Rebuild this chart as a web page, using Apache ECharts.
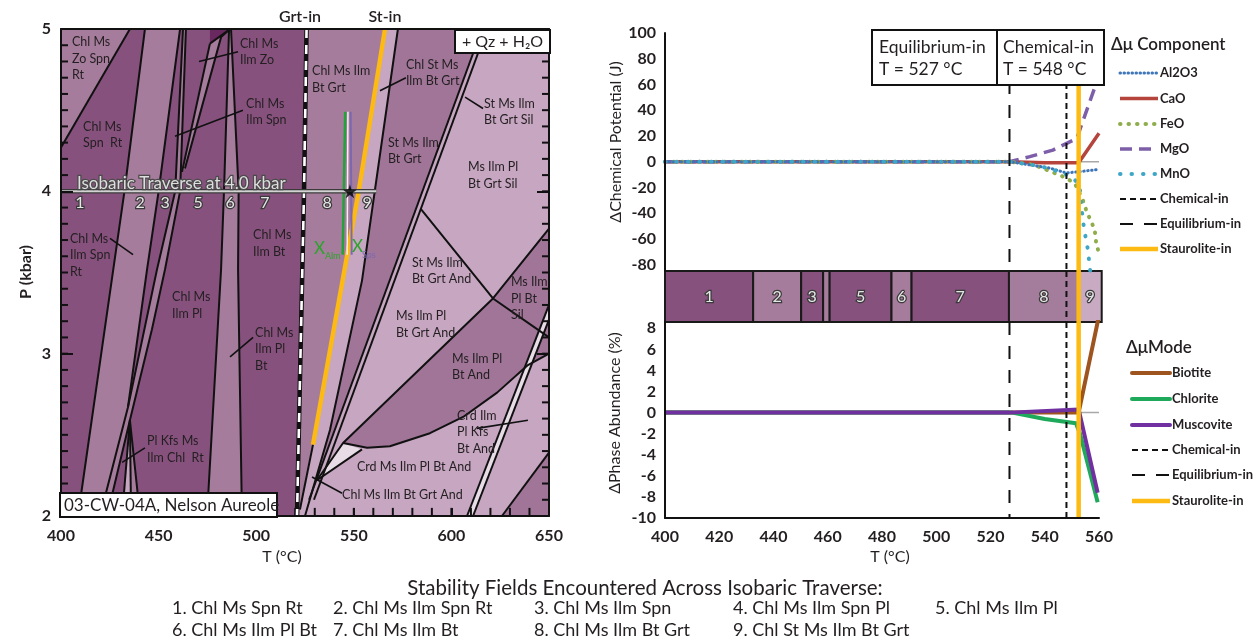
<!DOCTYPE html>
<html>
<head>
<meta charset="utf-8">
<title>Isobaric traverse, 03-CW-04A</title>
<script src="https://cdn.jsdelivr.net/npm/echarts@6.0.0/dist/echarts.min.js"></script>
<style>
  html, body { margin: 0; padding: 0; background: #ffffff; }
  #chart { width: 1260px; height: 641px; }
</style>
</head>
<body>
<div id="chart"></div>
<script>
const FONT = 'Lato, "Noto Sans", sans-serif';
const INK = '#231f20';

// ---------------- Pseudosection: vertices are [T (°C), P (kbar)] ----------------
const zoField      = [[400,5],[435.3,5],[400,4.27]];
const field2       = [[443.0,5],[461.0,5],[450.0,4],[444.1,3.52],[434.3,2.67],[420.0,2],[408.7,2],[432.5,4]];
const field4       = [[462.5,5],[464.0,5],[461.0,4],[453.3,3.52],[446.6,3.15],[435.3,2.59],[423.6,2],[420.0,2],[434.3,2.67],[449.2,3.52],[458.5,4]];
const field6       = [[486.1,5],[487.1,5],[491.0,4],[490.7,3.52],[492.7,2],[474.8,2],[482.0,3.52],[483.5,4]];
const topWedge     = [[476.3,4.91],[482.0,4.95],[463.5,4.14],[462.0,4.12]];
const plKfsRight   = [[435.3,2.59],[435.9,2],[440.5,2]];
const plKfsLeft    = [[435.3,2.59],[431.3,2],[435.9,2]];
const zoPeak       = [[476.3,5],[486.6,5],[476.3,4.91]];
const garnetSide   = [[525.8,5],[650,5],[650,2],[520.9,2],[524.5,4]];
const field8       = [[525.8,5],[566.0,5],[552.5,4],[529.1,2.44],[522.4,2.04],[522.0,2],[520.9,2],[524.5,4]];
const stField      = [[572.6,5],[615.7,5],[527.1,2.10],[525.0,2],[537.8,2.53],[554.2,3.45]];
const silField     = [[650,3.77],[621.3,3.34],[650,3.10]];
const andWedge     = [[544.5,2.45],[621.3,3.34],[650,3.10],[650,3.00],[639.2,2.93],[623.4,2.76],[606.0,2.61],[589.0,2.51],[568.5,2.43],[556.8,2.42]];
const cornerField  = [[625.9,2],[650,2],[650,2.39]];
const smallTri     = [[544.5,2.45],[554.2,2.41],[531.1,2.22]];
const doubleStrip  = [[608.0,2],[611.1,2],[650,3.21],[650,3.30]];

// reaction lines
const lineZo   = [[435.3,5],[400,4.27]];
const lineB    = [[443.0,5],[432.5,4],[408.7,2]];
const lineC    = [[461.0,5],[450.0,4],[444.1,3.52],[434.3,2.67],[420.0,2]];
const lineD    = [[462.5,5],[458.5,4],[449.2,3.52],[434.3,2.67]];
const lineE    = [[464.0,5],[461.0,4],[453.3,3.52],[446.6,3.15],[435.3,2.59],[423.6,2]];
const line56   = [[486.1,5],[483.5,4],[482.0,3.52],[474.8,2]];
const line67   = [[487.1,5],[491.0,4],[490.7,3.52],[492.7,2]];
const wedgeL   = [[476.3,4.91],[462.0,4.12]];
const wedgeR   = [[486.6,5],[482.0,4.95],[463.5,4.14]];
const peakEdge = [[476.3,4.91],[486.6,5]];
const triL     = [[435.3,2.59],[431.3,2]];
const triM     = [[435.3,2.59],[435.9,2]];
const triR     = [[435.3,2.59],[440.5,2]];
const stBelow  = [[529.1,2.44],[522.4,2.04]];
const lineF    = [[572.6,5],[554.2,3.45],[537.8,2.53],[525.0,2]];
const lineG1   = [[615.7,5],[527.1,2.10]];
const lineG2   = [[618.2,5],[529.6,2.10]];
const lineH    = [[584.4,3.89],[621.3,3.34],[650,3.10]];
const lineI    = [[650,3.77],[621.3,3.34],[544.5,2.45],[531.1,2.22]];
const lineK    = [[544.5,2.45],[556.8,2.42],[568.5,2.43],[589.0,2.51],[606.0,2.61],[623.4,2.76],[639.2,2.93],[650,3.00]];
const lineTri  = [[554.2,2.41],[531.1,2.22]];
const lineM1   = [[608.0,2],[650,3.30]];
const lineM2   = [[611.1,2],[650,3.21]];
const lineM3   = [[625.9,2],[650,2.39]];

const leaders = [
  [[470.7,4.80],[490.7,4.86]], [[458.4,4.34],[493.2,4.50]], [[425.1,3.71],[436.9,3.61]],
  [[486.6,2.98],[498.4,3.10]], [[431.3,2.33],[443.0,2.42]], [[563.4,4.62],[576.7,4.70]],
  [[607.0,4.58],[616.2,4.51]], [[613.1,2.54],[639.2,2.59]], [[528.6,2.24],[544.0,2.14]]
];

const grtIn  = [[525.8,5],[524.5,4],[520.9,2]];
const stIn   = [[566.0,5],[552.5,4],[529.1,2.44]];
const isoAlm = [[545.6,4.49],[544.3,3.61]];
const isoMid = [[547.0,4.49],[546.6,3.61]];
const isoSps = [[548.4,4.49],[548.9,3.61]];

const traverseP = 4.0;
const traverse  = [[400, traverseP],[561.5, traverseP]];
const starPoint = [[548, traverseP]];
const travNumT     = [409.7, 440.5, 453.3, 470.2, 486.6, 504.5, 536.3, 556.8];
const travNumLabel = ['1','2','3','5','6','7','8','9'];

const fieldLabelPos = [
  [405.6,4.97],[411.3,4.45],[491.7,4.96],[494.8,4.59],[404.6,3.76],[498.4,3.78],[456.9,3.40],
  [499.4,3.18],[444.1,2.51],[528.6,4.79],[576.7,4.83],[616.7,4.59],[567.5,4.35],[608.5,4.20],
  [579.8,3.61],[571.6,3.28],[600.3,3.02],[630.5,3.49],[602.9,2.67],[551.6,2.35],[544.0,2.18]
];
const fieldLabelText = [
  'Chl Ms\nZo Spn\nRt', 'Chl Ms\nSpn  Rt', 'Chl Ms\nIlm Zo', 'Chl Ms\nIlm Spn', 'Chl Ms\nIlm Spn\nRt',
  'Chl Ms\nIlm Bt', 'Chl Ms\nIlm Pl', 'Chl Ms\nIlm Pl\nBt', 'Pl Kfs Ms\nIlm Chl  Rt', 'Chl Ms Ilm\nBt Grt',
  'Chl St Ms\nIlm Bt Grt', 'St Ms Ilm\nBt Grt Sil', 'St Ms Ilm\nBt Grt', 'Ms Ilm Pl\nBt Grt Sil',
  'St Ms Ilm\nBt Grt And', 'Ms Ilm Pl\nBt Grt And', 'Ms Ilm Pl\nBt And', 'Ms Ilm\nPl Bt\nSil',
  'Crd Ilm\nPl Kfs\nBt And', 'Crd Ms Ilm Pl Bt And', 'Chl Ms Ilm Bt Grt And'
];

// frame ticks of the pseudosection: every 0.1 kbar and every 10 °C, pointing inwards
const pTicks = [];
for (let k = 21; k < 50; k++) pTicks.push(k / 10);
const tTicks = [];
for (let t = 410; t < 650; t += 10) tTicks.push(t);
const tickPaths = [].concat(
  pTicks.map(p => [[400, p], [403.6, p]]),
  pTicks.map(p => [[650, p], [646.4, p]]),
  tTicks.map(t => [[t, 2], [t, 2.05]])
);

// ---------------- Traverse at 4.0 kbar ----------------
const equilibriumIn = 527;
const chemicalIn    = 548;
const stauroliteIn  = 552.5;

const bandEdges = [400, 432.5, 450.2, 458.3, 460.7, 483.5, 490.9, 526.8, 552.5, 561];
const bandNames = ['1','2','3','','5','6','7','8','9'];
const bandShade = ['#87517e','#a67c9c','#87517e','#a67c9c','#87517e','#a67c9c','#87517e','#a57d9c','#c8aac3'];

// Δμ of each component (J) against T (°C)
const al2o3 = [[400,0],[527,0],[541.7,-4.9],[547.9,-8.8],[554,-7.5],[559,-6.2]];
const cao   = [[400,0],[527,0],[540,-0.8],[552.5,-0.8],[560,22]];
const feo   = [[400,0],[527,0],[535.4,-2.3],[539,-4.9],[546.5,-11.4],[551,-16.5],[554,-29.5],[555.4,-38.5],[558.4,-52.7],[559,-64],[560,-71]];
const mgo   = [[400,0],[527,0],[534.5,3.9],[543,9],[551.8,18],[558.5,58],[560,68]];
const mno   = [[400,0],[527,0],[537,-3],[542,-5.5],[549.7,-11.4],[552.8,-17.8],[554,-45],[555,-58],[556,-69.5],[556.5,-81],[557,-88]];

// Δ phase abundance (%) against T (°C)
const biotite   = [[400,0],[552.5,0],[560,9.2]];
const chlorite  = [[400,0],[528,0],[540,-0.6],[551.5,-1.0],[553,-2.0],[559.5,-8.5]];
const muscovite = [[400,0],[527,0],[552.5,0.3],[559.5,-7.6]];
const zeroRef   = [[400,0],[560,0]];

const componentNames = ['Al2O3','CaO','FeO','MgO','MnO'];
const modeNames = ['Biotite','Chlorite','Muscovite'];
const traverseFields = ['Chl Ms Spn Rt','Chl Ms Ilm Spn Rt','Chl Ms Ilm Spn','Chl Ms Ilm Spn Pl','Chl Ms Ilm Pl',
                        'Chl Ms Ilm Pl Bt','Chl Ms Ilm Bt','Chl Ms Ilm Bt Grt','Chl St Ms Ilm Bt Grt'];

// ---------------- helpers ----------------
function polySeries(polys, fill, z) {
  return {
    type: 'custom', xAxisIndex: 0, yAxisIndex: 0, silent: true, z: z,
    data: polys.map((p, i) => [p[0][0], p[0][1], i]),
    renderItem: (params, api) => ({
      type: 'polygon',
      shape: { points: polys[params.dataIndex].map(q => api.coord(q)) },
      style: { fill: fill }
    })
  };
}
function pathSeries(paths, stroke, width, dash, z) {
  return {
    type: 'custom', xAxisIndex: 0, yAxisIndex: 0, silent: true, z: z,
    data: paths.map((p, i) => [p[0][0], p[0][1], i]),
    renderItem: (params, api) => ({
      type: 'polyline',
      shape: { points: paths[params.dataIndex].map(q => api.coord(q)) },
      style: { fill: null, stroke: stroke, lineWidth: width, lineDash: dash || null, lineJoin: 'round' }
    })
  };
}
function textSeries(pos, texts, style, z) {
  return {
    type: 'custom', xAxisIndex: 0, yAxisIndex: 0, silent: true, z: z,
    data: pos.map((p, i) => [p[0], p[1], i]),
    renderItem: (params, api) => {
      const c = api.coord(pos[params.dataIndex]);
      return { type: 'text', x: c[0], y: c[1], style: Object.assign({ text: texts[params.dataIndex] }, style) };
    }
  };
}
function markerSeries(xi, yi, yLo, yHi, t, stroke, width, dash, z) {
  return {
    type: 'custom', xAxisIndex: xi, yAxisIndex: yi, silent: true, z: z,
    data: [[t, yLo]],
    renderItem: (params, api) => {
      const a = api.coord([t, yHi]), b = api.coord([t, yLo]);
      return { type: 'line', shape: { x1: a[0], y1: a[1], x2: b[0], y2: b[1] },
               style: { stroke: stroke, lineWidth: width, lineDash: dash || null } };
    }
  };
}
function lineSer(xi, yi, data, color, width, type, cap, z) {
  return { type: 'line', xAxisIndex: xi, yAxisIndex: yi, data: data, showSymbol: false, symbol: 'none',
           clip: true, silent: true, z: z,
           lineStyle: { color: color, width: width, type: type || 'solid', cap: cap || 'butt', join: 'round' } };
}
function txtStyle(font, align, valign, extra) {
  return Object.assign({ fill: INK, font: font, align: align, textAlign: align,
                         verticalAlign: valign, textVerticalAlign: valign }, extra || {});
}

// ---------------- style constants ----------------
const MID = '#a67c9c', PALE = '#c6a6c1', STRIP = '#a07598', VPALE = '#e8dde7', DEEP = '#6a2860';
const COL = { Al2O3: '#3e74b8', CaO: '#b5443c', FeO: '#8fae4b', MgO: '#7d5ea8', MnO: '#3ea7c7',
              Biotite: '#9e541f', Chlorite: '#1fa95a', Muscovite: '#7030a0', St: '#fcba12' };
const DASH = { Al2O3: [0.5, 3.5], FeO: [0.5, 8], MgO: [12, 7], MnO: [0.5, 11], chem: [6, 4], equi: [13, 11] };

// ---------------- series ----------------
const series = [
  polySeries([zoField, field2, field4, field6, topWedge, plKfsRight], MID, 1),
  polySeries([garnetSide, plKfsLeft], PALE, 1),
  polySeries([field8], MID, 1),
  polySeries([stField, silField, andWedge, cornerField], STRIP, 1),
  polySeries([smallTri, doubleStrip], VPALE, 1),
  polySeries([zoPeak], DEEP, 1),
  pathSeries([lineZo, lineB, lineC, lineD, lineE, line56, line67, wedgeL, wedgeR, peakEdge, triL, triM, triR,
              stBelow, lineF, lineG1, lineG2, lineH, lineI, lineK, lineTri, lineM1, lineM2, lineM3].concat(tickPaths),
             '#111', 2, null, 2),
  pathSeries(leaders, '#111', 1.6, null, 2),
  pathSeries([grtIn], '#111', 4.5, null, 3),
  pathSeries([grtIn], '#ffffff', 2.6, [9, 7], 3),
  pathSeries([stIn], COL.St, 4.5, null, 3),
  pathSeries([isoAlm], '#22a33a', 2.5, null, 3),
  pathSeries([isoMid], '#f2eef2', 1.5, null, 3),
  pathSeries([isoSps], '#7d68b0', 2, null, 3),
  pathSeries([traverse], '#3a3a3a', 4.5, null, 3),
  pathSeries([traverse], '#d2d2d2', 2, null, 3),
  {
    type: 'scatter', xAxisIndex: 0, yAxisIndex: 0, data: starPoint, silent: true, z: 4,
    symbol: 'path://M50,0 L61,35 L98,35 L68,57 L79,91 L50,70 L21,91 L32,57 L2,35 L39,35 Z',
    symbolSize: 14, itemStyle: { color: '#000' }
  },
  textSeries(fieldLabelPos, fieldLabelText, txtStyle('12.5px ' + FONT, 'left', 'top', { lineHeight: 16.5 }), 5),
  textSeries([[408.2, 4.05]], ['Isobaric Traverse at 4.0 kbar'],
             txtStyle('17px ' + FONT, 'left', 'middle', { fill: '#dedede', stroke: '#4a4a4a', lineWidth: 2.5 }), 5),
  textSeries(travNumT.map(t => [t, 3.93]), travNumLabel,
             txtStyle('16px ' + FONT, 'center', 'middle', { fill: '#e6e6e6', stroke: '#3a3a3a', lineWidth: 2.5 }), 5),
  textSeries([[529.6, 3.645], [549.1, 3.66]], ['X', 'X'], txtStyle('17px ' + FONT, 'left', 'middle', { fill: '#2aa52a' }), 5),
  textSeries([[535.2, 3.60]], ['Alm'], txtStyle('9px ' + FONT, 'left', 'middle', { fill: '#2aa52a' }), 5),
  textSeries([[554.2, 3.61]], ['Sps'], txtStyle('9px ' + FONT, 'left', 'middle', { fill: '#7d68b0' }), 5),

  // traverse: Δμ panel
  lineSer(2, 2, zeroRef, '#a8a8a8', 1.5, 'solid', 'butt', 2),
  lineSer(2, 2, cao, COL.CaO, 3.5, 'solid', 'butt', 3),
  lineSer(2, 2, mgo, COL.MgO, 3.5, DASH.MgO, 'butt', 3),
  lineSer(2, 2, feo, COL.FeO, 4, DASH.FeO, 'round', 3),
  lineSer(2, 2, al2o3, COL.Al2O3, 3, DASH.Al2O3, 'round', 3),
  lineSer(2, 2, mno, COL.MnO, 4, DASH.MnO, 'round', 3),
  markerSeries(2, 2, -85, 100, equilibriumIn, '#111', 2, DASH.equi, 4),
  markerSeries(2, 2, -85, 100, chemicalIn, '#111', 2, DASH.chem, 4),
  markerSeries(2, 2, -85, 100, stauroliteIn, COL.St, 4.5, null, 5),

  // traverse: stability-field strip
  {
    type: 'custom', xAxisIndex: 3, yAxisIndex: 3, silent: true, z: 3,
    data: bandNames.map((n, i) => [bandEdges[i], 0.5, i]),
    renderItem: (params, api) => {
      const i = params.dataIndex;
      const a = api.coord([bandEdges[i], 1]), b = api.coord([bandEdges[i + 1], 0]);
      return { type: 'group', children: [
        { type: 'rect', shape: { x: a[0], y: a[1], width: b[0] - a[0], height: b[1] - a[1] },
          style: { fill: bandShade[i], stroke: '#1a1a1a', lineWidth: 2 } },
        { type: 'text', x: (a[0] + b[0]) / 2, y: (a[1] + b[1]) / 2,
          style: txtStyle('16px ' + FONT, 'center', 'middle', { text: bandNames[i], fill: '#e6e6e6', stroke: '#3a3a3a', lineWidth: 2.5 }) }
      ] };
    }
  },
  markerSeries(3, 3, 0, 1, chemicalIn, '#111', 2, DASH.chem, 4),
  markerSeries(3, 3, 0, 1, stauroliteIn, COL.St, 4.5, null, 5),

  // traverse: mode panel
  lineSer(4, 4, zeroRef, '#a8a8a8', 1.5, 'solid', 'butt', 2),
  lineSer(4, 4, biotite, COL.Biotite, 4, 'solid', 'butt', 3),
  lineSer(4, 4, chlorite, COL.Chlorite, 4, 'solid', 'butt', 3),
  lineSer(4, 4, muscovite, COL.Muscovite, 4, 'solid', 'butt', 3),
  markerSeries(4, 4, -10, 8.6, equilibriumIn, '#111', 2, DASH.equi, 4),
  markerSeries(4, 4, -10, 8.6, chemicalIn, '#111', 2, DASH.chem, 4),
  markerSeries(4, 4, -10, 8.6, stauroliteIn, COL.St, 4.5, null, 5)
];

// ---------------- text furniture and legends ----------------
const graphics = [];
function gText(x, y, text, font, align, opts) {
  const o = opts || {};
  graphics.push({ type: 'text', x: x, y: y, z: 100, rotation: o.rot || 0, silent: true,
    style: txtStyle(font, align, 'middle', Object.assign({ text: text }, o.style || {})) });
}
function gRect(x, y, w, h) {
  graphics.push({ type: 'rect', z: 99, silent: true, shape: { x: x, y: y, width: w, height: h },
    style: { fill: '#ffffff', stroke: '#111', lineWidth: 2 } });
}
function gLine(x1, x2, y, stroke, width, dash, cap) {
  graphics.push({ type: 'line', z: 100, silent: true, shape: { x1: x1, y1: y, x2: x2, y2: y },
    style: { stroke: stroke, lineWidth: width, lineDash: dash || null, lineCap: cap || 'butt' } });
}

gText(300, 17, 'Grt-in', '600 16px ' + FONT, 'center');
gText(385, 17, 'St-in', '600 16px ' + FONT, 'center');
gRect(455, 30, 95, 23);
gText(502.5, 42, '+ Qz + H₂O', '16px ' + FONT, 'center');
gRect(60, 493, 217, 24);
gText(64, 506, '03-CW-04A, Nelson Aureole', '17px ' + FONT, 'left');
gText(26, 272, 'P (kbar)', 'bold 16px ' + FONT, 'center', { rot: Math.PI / 2 });
gText(282, 557, 'T (°C)', '16px ' + FONT, 'center');

gText(616, 142, 'ΔChemical Potential (J)', '16px ' + FONT, 'center', { rot: Math.PI / 2 });
gText(615, 413, 'ΔPhase Abundance (%)', '16px ' + FONT, 'center', { rot: Math.PI / 2 });
gText(890, 557, 'T (°C)', '16px ' + FONT, 'center');

gRect(872, 30, 125, 55);
gRect(997, 30, 107, 55);
gText(879, 47, 'Equilibrium-in', '17.5px ' + FONT, 'left');
gText(879, 69, 'T = ' + equilibriumIn + ' °C', '17.5px ' + FONT, 'left');
gText(1003, 47, 'Chemical-in', '17.5px ' + FONT, 'left');
gText(1003, 69, 'T = ' + chemicalIn + ' °C', '17.5px ' + FONT, 'left');

// Δμ component legend
gText(1111, 45, 'Δμ Component', '600 17px ' + FONT, 'left');
const leg1Y = [73, 98.5, 124, 149, 174, 199, 224, 249];
const leg1Style = [
  [COL.Al2O3, 3, DASH.Al2O3, 'round'], [COL.CaO, 3.5, null, 'butt'], [COL.FeO, 4, DASH.FeO, 'round'],
  [COL.MgO, 3.5, DASH.MgO, 'butt'], [COL.MnO, 4, DASH.MnO, 'round']
];
componentNames.forEach((n, i) => {
  const s = leg1Style[i];
  gLine(1120, 1158, leg1Y[i], s[0], s[1], s[2], s[3]);
  gText(1160, leg1Y[i], n, 'bold 13px ' + FONT, 'left');
});
function markerLegend(x1, x2, ys) {
  gLine(x1, x2, ys[0], '#111', 2, DASH.chem);
  gText(x2 + 2, ys[0], 'Chemical-in', 'bold 13px ' + FONT, 'left');
  gLine(x1, x2, ys[1], '#111', 2, DASH.equi);
  gText(x2 + 2, ys[1], 'Equilibrium-in', 'bold 13px ' + FONT, 'left');
  gLine(x1, x2, ys[2], COL.St, 4.5);
  gText(x2 + 2, ys[2], 'Staurolite-in', 'bold 13px ' + FONT, 'left');
}
markerLegend(1120, 1158, leg1Y.slice(5));

// Δμ mode legend
gText(1126, 348, 'ΔμMode', '600 17px ' + FONT, 'left');
const leg2Y = [373, 399, 425, 450, 475, 501];
modeNames.forEach((n, i) => {
  gLine(1132, 1170, leg2Y[i], COL[n], 4, null, 'round');
  gText(1172, leg2Y[i], n, 'bold 13px ' + FONT, 'left');
});
markerLegend(1132, 1170, leg2Y.slice(3));

// list of fields crossed by the traverse
gText(645, 588, 'Stability Fields Encountered Across Isobaric Traverse:', '20.5px ' + FONT, 'center');
const listX = [172, 333, 534, 733, 935];
traverseFields.forEach((f, i) => {
  gText(listX[i % 5], i < 5 ? 608 : 630, (i + 1) + '. ' + f, '18px ' + FONT, 'left');
});

// ---------------- axes ----------------
const tickLabel = { color: INK, fontFamily: FONT, fontSize: 16, fontWeight: 'bold' };
const blackLine = { show: true, onZero: false, lineStyle: { color: '#111', width: 2 } };
const innerTick = len => ({ show: true, inside: true, length: len, lineStyle: { color: '#111', width: 2 } });

const option = {
  animation: false,
  backgroundColor: '#ffffff',
  textStyle: { fontFamily: FONT },
  grid: [
    { left: 61, top: 29, width: 488, height: 487, show: true, backgroundColor: '#87517e', borderWidth: 0 },
    { left: 665, top: 33, width: 434, height: 238 },
    { left: 665, top: 271, width: 434, height: 51 },
    { left: 665, top: 322, width: 434, height: 196 }
  ],
  xAxis: [
    { gridIndex: 0, type: 'value', min: 400, max: 650, interval: 50, z: 20,
      axisLine: blackLine, splitLine: { show: false }, axisTick: innerTick(8),
      axisLabel: Object.assign({ margin: 12 }, tickLabel) },
    { gridIndex: 0, type: 'value', position: 'top', min: 400, max: 650, z: 20,
      axisLine: blackLine, axisTick: { show: false }, axisLabel: { show: false }, splitLine: { show: false } },
    { gridIndex: 1, type: 'value', min: 400, max: 560, show: false },
    { gridIndex: 2, type: 'value', min: 400, max: 560, show: false },
    { gridIndex: 3, type: 'value', min: 400, max: 560, interval: 20, z: 20,
      axisLine: blackLine, axisTick: { show: false }, splitLine: { show: false },
      axisLabel: Object.assign({ margin: 11 }, tickLabel) }
  ],
  yAxis: [
    { gridIndex: 0, type: 'value', min: 2, max: 5, interval: 1, z: 20,
      axisLine: blackLine, splitLine: { show: false }, axisTick: innerTick(12),
      axisLabel: Object.assign({ margin: 10 }, tickLabel) },
    { gridIndex: 0, type: 'value', position: 'right', min: 2, max: 5, interval: 1, z: 20,
      axisLine: blackLine, splitLine: { show: false }, axisLabel: { show: false }, axisTick: innerTick(12) },
    { gridIndex: 1, type: 'value', min: -85, max: 100, interval: 5, z: 20,
      axisLine: blackLine, axisTick: { show: false }, splitLine: { show: false },
      axisLabel: Object.assign({ margin: 9, formatter: v => (Math.round(v) % 20 === 0 ? String(v) : '') }, tickLabel) },
    { gridIndex: 2, type: 'value', min: 0, max: 1, show: false },
    { gridIndex: 3, type: 'value', min: -10, max: 8.6, interval: 2, z: 20,
      axisLine: blackLine, axisTick: { show: false }, splitLine: { show: false },
      axisLabel: Object.assign({ margin: 9, formatter: v => (Number.isInteger(v) && v % 2 === 0 ? String(v) : '') }, tickLabel) }
  ],
  series: series,
  graphic: { elements: graphics }
};

const chart = echarts.init(document.getElementById('chart'), null, { renderer: 'canvas' });
chart.setOption(option);
</script>
</body>
</html>
